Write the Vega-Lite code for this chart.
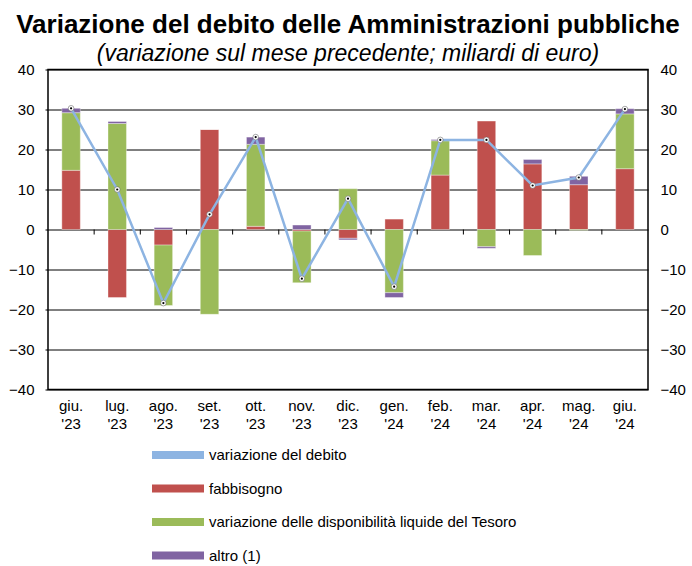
{
  "$schema": "https://vega.github.io/schema/vega-lite/v6.json",
  "autosize": "none",
  "width": 600,
  "height": 320,
  "padding": {"left": 48, "top": 69.5, "right": 44, "bottom": 176.5},
  "background": "white",
  "config": {
    "font": "Liberation Sans",
    "view": {"stroke": "black", "strokeWidth": 1.5},
    "axis": {"labelFont": "Liberation Sans", "labelFontSize": 15, "labelColor": "black"}
  },
  "title": {
    "text": "Variazione del debito delle Amministrazioni pubbliche",
    "subtitle": "(variazione sul mese precedente; miliardi di euro)",
    "anchor": "middle",
    "frame": "group",
    "fontSize": 26,
    "fontWeight": "bold",
    "color": "black",
    "subtitleFontSize": 23,
    "subtitleFontStyle": "italic",
    "subtitleColor": "black",
    "subtitlePadding": 5,
    "offset": -3
  },
  "datasets": {
    "bars": [
      {"month": "giu. '23", "series": "fabbisogno", "ord": 1, "value": 14.8},
      {"month": "giu. '23", "series": "variazione delle disponibilità liquide del Tesoro", "ord": 2, "value": 14.4},
      {"month": "giu. '23", "series": "altro (1)", "ord": 3, "value": 1.1},
      {"month": "lug. '23", "series": "fabbisogno", "ord": 1, "value": -17.0},
      {"month": "lug. '23", "series": "variazione delle disponibilità liquide del Tesoro", "ord": 2, "value": 26.5},
      {"month": "lug. '23", "series": "altro (1)", "ord": 3, "value": 0.5},
      {"month": "ago. '23", "series": "fabbisogno", "ord": 1, "value": -3.9},
      {"month": "ago. '23", "series": "variazione delle disponibilità liquide del Tesoro", "ord": 2, "value": -15.1},
      {"month": "ago. '23", "series": "altro (1)", "ord": 3, "value": 0.5},
      {"month": "set. '23", "series": "fabbisogno", "ord": 1, "value": 25.0},
      {"month": "set. '23", "series": "variazione delle disponibilità liquide del Tesoro", "ord": 2, "value": -21.2},
      {"month": "set. '23", "series": "altro (1)", "ord": 3, "value": 0.0},
      {"month": "ott. '23", "series": "fabbisogno", "ord": 1, "value": 0.8},
      {"month": "ott. '23", "series": "variazione delle disponibilità liquide del Tesoro", "ord": 2, "value": 20.5},
      {"month": "ott. '23", "series": "altro (1)", "ord": 3, "value": 1.8},
      {"month": "nov. '23", "series": "fabbisogno", "ord": 1, "value": -0.4},
      {"month": "nov. '23", "series": "variazione delle disponibilità liquide del Tesoro", "ord": 2, "value": -12.9},
      {"month": "nov. '23", "series": "altro (1)", "ord": 3, "value": 1.1},
      {"month": "dic. '23", "series": "fabbisogno", "ord": 1, "value": -2.2},
      {"month": "dic. '23", "series": "variazione delle disponibilità liquide del Tesoro", "ord": 2, "value": 10.2},
      {"month": "dic. '23", "series": "altro (1)", "ord": 3, "value": -0.4},
      {"month": "gen. '24", "series": "fabbisogno", "ord": 1, "value": 2.6},
      {"month": "gen. '24", "series": "variazione delle disponibilità liquide del Tesoro", "ord": 2, "value": -15.8},
      {"month": "gen. '24", "series": "altro (1)", "ord": 3, "value": -1.2},
      {"month": "feb. '24", "series": "fabbisogno", "ord": 1, "value": 13.6},
      {"month": "feb. '24", "series": "variazione delle disponibilità liquide del Tesoro", "ord": 2, "value": 8.6},
      {"month": "feb. '24", "series": "altro (1)", "ord": 3, "value": 0.3},
      {"month": "mar. '24", "series": "fabbisogno", "ord": 1, "value": 27.1},
      {"month": "mar. '24", "series": "variazione delle disponibilità liquide del Tesoro", "ord": 2, "value": -4.3},
      {"month": "mar. '24", "series": "altro (1)", "ord": 3, "value": -0.4},
      {"month": "apr. '24", "series": "fabbisogno", "ord": 1, "value": 16.4},
      {"month": "apr. '24", "series": "variazione delle disponibilità liquide del Tesoro", "ord": 2, "value": -6.5},
      {"month": "apr. '24", "series": "altro (1)", "ord": 3, "value": 1.1},
      {"month": "mag. '24", "series": "fabbisogno", "ord": 1, "value": 11.2},
      {"month": "mag. '24", "series": "variazione delle disponibilità liquide del Tesoro", "ord": 2, "value": -0.2},
      {"month": "mag. '24", "series": "altro (1)", "ord": 3, "value": 2.1},
      {"month": "giu. '24", "series": "fabbisogno", "ord": 1, "value": 15.2},
      {"month": "giu. '24", "series": "variazione delle disponibilità liquide del Tesoro", "ord": 2, "value": 13.7},
      {"month": "giu. '24", "series": "altro (1)", "ord": 3, "value": 1.3}
    ],
    "debt": [
      {"month": "giu. '23", "debito": 30.3},
      {"month": "lug. '23", "debito": 10.0},
      {"month": "ago. '23", "debito": -18.4},
      {"month": "set. '23", "debito": 3.8},
      {"month": "ott. '23", "debito": 23.1},
      {"month": "nov. '23", "debito": -12.3},
      {"month": "dic. '23", "debito": 7.7},
      {"month": "gen. '24", "debito": -14.3},
      {"month": "feb. '24", "debito": 22.4},
      {"month": "mar. '24", "debito": 22.4},
      {"month": "apr. '24", "debito": 11.0},
      {"month": "mag. '24", "debito": 13.0},
      {"month": "giu. '24", "debito": 30.1}
    ],
    "ticks": [
      {"month": "giu. '23", "y0": 0, "y1": -1.25},
      {"month": "lug. '23", "y0": 0, "y1": -1.25},
      {"month": "ago. '23", "y0": 0, "y1": -1.25},
      {"month": "set. '23", "y0": 0, "y1": -1.25},
      {"month": "ott. '23", "y0": 0, "y1": -1.25},
      {"month": "nov. '23", "y0": 0, "y1": -1.25},
      {"month": "dic. '23", "y0": 0, "y1": -1.25},
      {"month": "gen. '24", "y0": 0, "y1": -1.25},
      {"month": "feb. '24", "y0": 0, "y1": -1.25},
      {"month": "mar. '24", "y0": 0, "y1": -1.25},
      {"month": "apr. '24", "y0": 0, "y1": -1.25},
      {"month": "mag. '24", "y0": 0, "y1": -1.25}
    ]
  },
  "encoding": {
    "x": {
      "field": "month",
      "type": "nominal",
      "sort": null,
      "scale": {
        "domain": ["giu. '23", "lug. '23", "ago. '23", "set. '23", "ott. '23", "nov. '23", "dic. '23", "gen. '24", "feb. '24", "mar. '24", "apr. '24", "mag. '24", "giu. '24"],
        "paddingInner": 0.6,
        "paddingOuter": 0.3
      },
      "axis": {
        "title": null,
        "labelAngle": 0,
        "labelExpr": "split(datum.label, ' ')",
        "labelLineHeight": 18,
        "labelPadding": 9,
        "ticks": false,
        "domain": false
      }
    }
  },
  "layer": [
    {
      "data": {"name": "bars"},
      "mark": {"type": "bar", "stroke": "white", "strokeOpacity": 0.45, "strokeWidth": 0.8},
      "encoding": {
        "y": {
          "field": "value",
          "type": "quantitative",
          "stack": "zero",
          "scale": {"domain": [-40, 40], "nice": false},
          "axis": {
            "title": null,
            "values": [-40, -30, -20, -10, 0, 10, 20, 30, 40],
            "grid": true,
            "gridColor": "black",
            "gridWidth": 1,
            "gridOpacity": 1,
            "domain": false,
            "tickSize": 3,
            "tickColor": "black",
            "labelPadding": 11
          }
        },
        "color": {
          "field": "series",
          "type": "nominal",
          "scale": {
            "domain": ["variazione del debito", "fabbisogno", "variazione delle disponibilità liquide del Tesoro", "altro (1)"],
            "range": ["#8DB4E2", "#C0504D", "#9BBB59", "#8064A2"]
          },
          "legend": {
            "title": null,
            "orient": "none",
            "legendX": 104,
            "legendY": 375.5,
            "direction": "vertical",
            "padding": 0,
            "clipHeight": 20,
            "rowPadding": 13.5,
            "symbolSize": 2704,
            "symbolType": "M-1,-0.15L1,-0.15L1,0.15L-1,0.15Z",
            "symbolStrokeWidth": 0,
            "symbolOffset": 0,
            "labelOffset": 5,
            "labelFontSize": 15,
            "labelFont": "Liberation Sans",
            "labelColor": "black",
            "labelLimit": 600,
            "encode": {
              "symbols": {
                "update": {
                  "shape": [
                    {"test": "datum.value === 'variazione del debito'", "value": "M-1,-0.045L1,-0.045L1,0.045L-1,0.045Z"},
                    {"value": "M-1,-0.15L1,-0.15L1,0.15L-1,0.15Z"}
                  ]
                }
              }
            }
          }
        },
        "order": {"field": "ord", "type": "quantitative"}
      }
    },
    {
      "data": {"name": "ticks"},
      "mark": {"type": "rule", "color": "black", "strokeWidth": 1},
      "encoding": {
        "x": {"field": "month", "type": "nominal", "sort": null, "bandPosition": 1.75},
        "y": {"field": "y0", "type": "quantitative", "axis": null},
        "y2": {"field": "y1"}
      }
    },
    {
      "data": {"name": "debt"},
      "mark": {"type": "line", "color": "#8DB4E2", "strokeWidth": 2.5},
      "encoding": {
        "y": {"field": "debito", "type": "quantitative", "axis": null}
      }
    },
    {
      "data": {"name": "debt"},
      "mark": {"type": "point", "filled": true, "fill": "white", "stroke": "#555555", "strokeWidth": 0.5, "opacity": 1, "size": 32},
      "encoding": {
        "y": {"field": "debito", "type": "quantitative", "axis": null}
      }
    },
    {
      "data": {"name": "debt"},
      "mark": {"type": "point", "filled": true, "fill": "black", "opacity": 1, "size": 5},
      "encoding": {
        "y": {"field": "debito", "type": "quantitative", "axis": null}
      }
    },
    {
      "data": {"name": "debt"},
      "mark": {"type": "point", "opacity": 0, "size": 0},
      "encoding": {
        "y": {
          "field": "debito",
          "type": "quantitative",
          "axis": {
            "orient": "right",
            "title": null,
            "values": [-40, -30, -20, -10, 0, 10, 20, 30, 40],
            "grid": false,
            "domain": false,
            "ticks": false,
            "labelPadding": 12
          }
        }
      }
    }
  ],
  "resolve": {"axis": {"y": "independent"}}
}
